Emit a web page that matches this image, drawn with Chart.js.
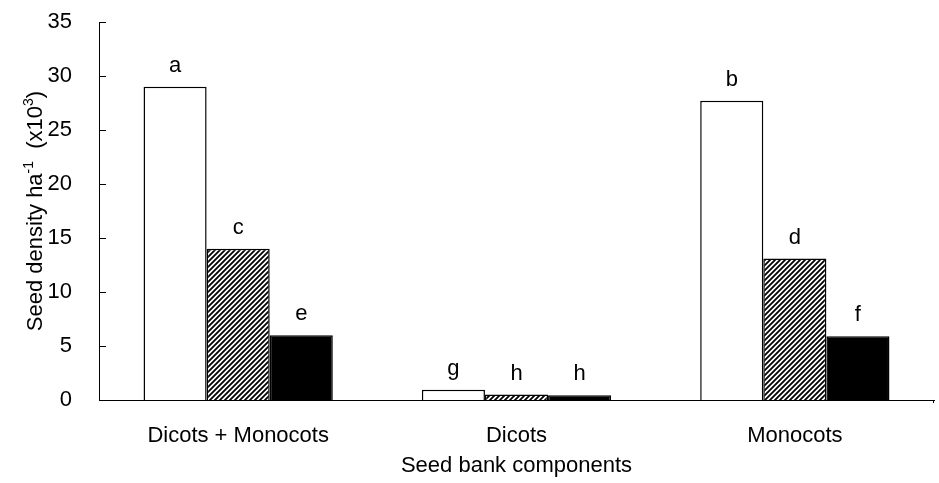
<!DOCTYPE html>
<html>
<head>
<meta charset="utf-8">
<script src="https://cdn.jsdelivr.net/npm/chart.js@4/dist/chart.umd.min.js"></script>
<style>
  html, body { margin: 0; padding: 0; background: #fff; }
</style>
</head>
<body>
<canvas id="graficoBarras" width="939" height="483"></canvas>
<script>
// dados
var categorias = ['Dicots + Monocots', 'Dicots', 'Monocots'];
var serieBranca = [29.0, 0.95, 27.7];
var serieListrada = [14.0, 0.5, 13.1];
var seriePreta = [6.0, 0.45, 5.9];
var letrasBranca = ['a', 'g', 'b'];
var letrasListrada = ['c', 'h', 'd'];
var letrasPreta = ['e', 'h', 'f'];
var ticksY = [0, 5, 10, 15, 20, 25, 30, 35];

var fonte = '"Liberation Sans", Arial, sans-serif';

function padraoListrado() {
    var n = 5;
    var c = document.createElement('canvas');
    c.width = n;
    c.height = n;
    var g = c.getContext('2d');
    g.fillStyle = '#fff';
    g.fillRect(0, 0, n, n);
    g.strokeStyle = '#000';
    g.lineWidth = 1.8;
    g.beginPath();
    g.moveTo(0, n); g.lineTo(n, 0);
    g.moveTo(-1, 1); g.lineTo(1, -1);
    g.moveTo(n - 1, n + 1); g.lineTo(n + 1, n - 1);
    g.stroke();
    return g.createPattern(c, 'repeat');
}

var ctx = document.getElementById('graficoBarras').getContext('2d');

// letras acima das barras, ticks internos e titulo do eixo y
var extras = {
    id: 'extras',
    afterDatasetsDraw: function (chart) {
        var c = chart.ctx;
        var letras = [letrasBranca, letrasListrada, letrasPreta];
        c.save();
        c.fillStyle = '#000';
        c.font = '22px ' + fonte;
        c.textAlign = 'center';
        c.textBaseline = 'alphabetic';
        for (var d = 0; d < 3; d++) {
            var meta = chart.getDatasetMeta(d);
            meta.data.forEach(function (bar, i) {
                c.fillText(letras[d][i], bar.x, bar.y - 15);
            });
        }
        c.restore();
    },
    afterDraw: function (chart) {
        var c = chart.ctx;
        var area = chart.chartArea;
        var y = chart.scales.y;
        c.save();
        c.strokeStyle = '#000';
        c.lineWidth = 1;
        c.beginPath();
        ticksY.forEach(function (v) {
            var py = Math.round(y.getPixelForValue(v)) + 0.5;
            c.moveTo(area.left, py);
            c.lineTo(area.left + 7, py);
        });
        c.moveTo(area.right - 0.5, area.bottom);
        c.lineTo(area.right - 0.5, area.bottom + 3);
        c.stroke();

        // titulo y com sobrescritos
        var partes = [
            ['Seed density ha', false],
            ['-1', true],
            ['  (x10', false],
            ['3', true],
            [')', false]
        ];
        var normal = '22px ' + fonte;
        var pequeno = '14px ' + fonte;
        var total = 0;
        partes.forEach(function (p) {
            c.font = p[1] ? pequeno : normal;
            total += c.measureText(p[0]).width;
        });
        c.translate(42, (area.top + area.bottom) / 2);
        c.rotate(-Math.PI / 2);
        c.fillStyle = '#000';
        c.textBaseline = 'alphabetic';
        c.textAlign = 'left';
        var px = -total / 2;
        partes.forEach(function (p) {
            c.font = p[1] ? pequeno : normal;
            c.fillText(p[0], px, p[1] ? -9 : 0);
            px += c.measureText(p[0]).width;
        });
        c.restore();
    }
};

var grafico = new Chart(ctx, {
    type: 'bar',
    data: {
        labels: categorias,
        datasets: [{
            data: serieBranca,
            backgroundColor: '#fff',
            borderColor: '#000',
            borderWidth: 1.5
        }, {
            data: serieListrada,
            backgroundColor: padraoListrado(),
            borderColor: '#000',
            borderWidth: 1.5
        }, {
            data: seriePreta,
            backgroundColor: '#000',
            borderColor: '#000',
            borderWidth: 1.5
        }]
    },
    options: {
        responsive: false,
        animation: false,
        devicePixelRatio: 1,
        layout: { padding: { top: 22, right: 5, left: 0, bottom: 0 } },
        datasets: { bar: { barPercentage: 1, categoryPercentage: 0.68 } },
        plugins: {
            legend: { display: false },
            tooltip: { enabled: false }
        },
        scales: {
            x: {
                grid: { display: false },
                border: { display: true, color: '#000', width: 1 },
                ticks: { color: '#000', font: { family: fonte, size: 22 }, padding: 15, maxRotation: 0 },
                title: {
                    display: true,
                    text: 'Seed bank components',
                    color: '#000',
                    font: { family: fonte, size: 22 },
                    padding: { top: 0, bottom: 4 }
                },
                afterFit: function (s) { s.height = 83; s.paddingLeft = 0; s.paddingRight = 0; }
            },
            y: {
                min: 0,
                max: 35,
                grid: { display: false },
                border: { display: true, color: '#000', width: 1 },
                ticks: { stepSize: 5, color: '#000', font: { family: fonte, size: 22 }, padding: 19 },
                afterFit: function (s) { s.width = 99; s.paddingTop = 0; s.paddingBottom = 0; }
            }
        }
    },
    plugins: [extras]
});
</script>
</body>
</html>
